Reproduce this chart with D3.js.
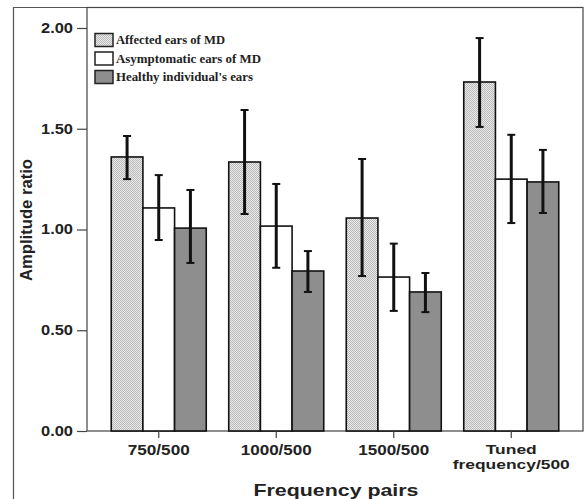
<!DOCTYPE html>
<html><head><meta charset="utf-8">
<script src="https://cdn.jsdelivr.net/npm/d3@7"></script>
<style>body{margin:0;background:#fff}svg{display:block}</style>
</head><body>
<script>
const categories = ["750/500", "1000/500", "1500/500", "Tuned frequency/500"];
const seriesNames = ["Affected ears of MD", "Asymptomatic ears of MD", "Healthy individual's ears"];
const affected     = [1.36, 1.335, 1.057, 1.732];
const affectedLo   = [1.25, 1.077, 0.769, 1.509];
const affectedHi   = [1.464, 1.593, 1.35, 1.95];
const asymptomatic   = [1.107, 1.017, 0.764, 1.25];
const asymptomaticLo = [0.948, 0.81, 0.596, 1.032];
const asymptomaticHi = [1.27, 1.226, 0.93, 1.47];
const healthy   = [1.007, 0.794, 0.69, 1.236];
const healthyLo = [0.834, 0.69, 0.59, 1.082];
const healthyHi = [1.196, 0.893, 0.784, 1.395];
const yTicks = [0, 0.5, 1.0, 1.5, 2.0];

(function(){
const W = 586, H = 499;
const svg = d3.select("body").append("svg").attr("width", W).attr("height", H);

const defs = svg.append("defs");
const pat = defs.append("pattern").attr("id","dots").attr("patternUnits","userSpaceOnUse")
  .attr("width",2).attr("height",2);
pat.append("rect").attr("width",2).attr("height",2).attr("fill","#ebebeb").attr("shape-rendering","crispEdges");
pat.append("rect").attr("width",1).attr("height",1).attr("fill","#b8b8b8").attr("shape-rendering","crispEdges");
pat.append("rect").attr("x",1).attr("y",1).attr("width",1).attr("height",1).attr("fill","#b8b8b8").attr("shape-rendering","crispEdges");

const fills = ["url(#dots)", "#ffffff", "#8e8e8e"];
const vals = [affected, asymptomatic, healthy];
const los = [affectedLo, asymptomaticLo, healthyLo];
const his = [affectedHi, asymptomaticHi, healthyHi];

const pL = 87, pR = 583, pT = 7, pB = 431;
const y = d3.scaleLinear().domain([0, 2]).range([pB, 28]);
const x = d3.scaleBand().domain(categories).range([pL, pR]).paddingInner(0.1915).paddingOuter(0.2063);
const xs = d3.scaleBand().domain(seriesNames).range([0, x.bandwidth()]);

// outer frame
svg.append("line").attr("x1",13.5).attr("x2",13.5).attr("y1",7).attr("y2",H).attr("stroke","#555").attr("stroke-width",1.2);
svg.append("line").attr("x1",13).attr("x2",pR).attr("y1",7.5).attr("y2",7.5).attr("stroke","#555").attr("stroke-width",1.2);
// plot box
svg.append("rect").attr("x",pL).attr("y",pT+0.5).attr("width",pR-pL).attr("height",pB-pT-0.5)
  .attr("fill","none").attr("stroke","#444").attr("stroke-width",1.2);

// bars
const data = [];
categories.forEach((c,i)=>seriesNames.forEach((s,j)=>data.push({c,s,j,v:vals[j][i],lo:los[j][i],hi:his[j][i]})));
const g = svg.append("g");
g.selectAll("rect.bar").data(data).join("rect").attr("class","bar")
  .attr("x", d=>x(d.c)+xs(d.s)).attr("width", xs.bandwidth())
  .attr("y", d=>y(d.v)).attr("height", d=>y(0)-y(d.v))
  .attr("fill", d=>fills[d.j]).attr("stroke","#111").attr("stroke-width",1.6);

// error bars
const eb = g.selectAll("g.eb").data(data).join("g").attr("class","eb")
  .attr("transform", d=>`translate(${x(d.c)+xs(d.s)+xs.bandwidth()/2},0)`);
eb.append("line").attr("y1",d=>y(d.lo)).attr("y2",d=>y(d.hi)).attr("stroke","#111").attr("stroke-width",3);
eb.append("line").attr("x1",-4).attr("x2",4).attr("y1",d=>y(d.hi)).attr("y2",d=>y(d.hi)).attr("stroke","#111").attr("stroke-width",2);
eb.append("line").attr("x1",-4).attr("x2",4).attr("y1",d=>y(d.lo)).attr("y2",d=>y(d.lo)).attr("stroke","#111").attr("stroke-width",2);

// y axis
const yAx = svg.append("g").attr("transform",`translate(${pL},0)`)
  .call(d3.axisLeft(y).tickValues(yTicks).tickFormat(d3.format(".2f")).tickSize(10).tickPadding(4));
yAx.select(".domain").remove();
yAx.selectAll("line").attr("stroke","#444").attr("stroke-width",1.2);
yAx.selectAll("text").attr("font-family","Liberation Sans, Arial, sans-serif").attr("font-weight","bold")
  .attr("font-size",14).attr("fill","#222").attr("textLength",32).attr("lengthAdjust","spacingAndGlyphs");

// x axis
const xAx = svg.append("g").attr("transform",`translate(0,${pB})`)
  .call(d3.axisBottom(x).tickSize(7).tickFormat(""));
xAx.select(".domain").remove();
xAx.selectAll("line").attr("stroke","#444").attr("stroke-width",1.2);
const labW = {"750/500":62,"1000/500":71,"1500/500":71};
categories.forEach(c=>{
  const cx = x(c)+x.bandwidth()/2;
  const t = svg.append("text").attr("text-anchor","middle")
    .attr("font-family","Liberation Sans, Arial, sans-serif").attr("font-weight","bold")
    .attr("font-size",14).attr("fill","#222");
  if (c.startsWith("Tuned")) {
    const parts = c.split(" ");
    svg.append("text").attr("x",cx).attr("y",454).attr("text-anchor","middle")
      .attr("font-family","Liberation Sans, Arial, sans-serif").attr("font-weight","bold").attr("font-size",13).attr("fill","#222")
      .attr("textLength",51).attr("lengthAdjust","spacingAndGlyphs").text(parts[0]);
    svg.append("text").attr("x",cx).attr("y",469).attr("text-anchor","middle")
      .attr("font-family","Liberation Sans, Arial, sans-serif").attr("font-weight","bold").attr("font-size",13).attr("fill","#222")
      .attr("textLength",117).attr("lengthAdjust","spacingAndGlyphs").text(parts[1]);
    t.remove();
  } else {
    t.attr("x",cx).attr("y",455).attr("textLength",labW[c]).attr("lengthAdjust","spacingAndGlyphs").text(c);
  }
});

// axis titles
svg.append("text").attr("x",336).attr("y",496).attr("text-anchor","middle")
  .attr("font-family","Liberation Sans, Arial, sans-serif").attr("font-weight","bold").attr("font-size",17)
  .attr("fill","#222").attr("textLength",165).attr("lengthAdjust","spacingAndGlyphs").text("Frequency pairs");
svg.append("text").attr("transform","translate(32,220) rotate(-90)").attr("text-anchor","middle")
  .attr("font-family","Liberation Sans, Arial, sans-serif").attr("font-weight","bold").attr("font-size",16)
  .attr("fill","#222").attr("textLength",122).attr("lengthAdjust","spacingAndGlyphs").text("Amplitude ratio");

// legend
const legW = [109, 145, 137];
const leg = svg.append("g");
seriesNames.forEach((s,j)=>{
  const cy = 40 + j*18.5;
  leg.append("rect").attr("x",95).attr("y",cy-6.5).attr("width",18).attr("height",13)
    .attr("fill",fills[j]).attr("stroke","#222").attr("stroke-width",1.5);
  leg.append("text").attr("x",116).attr("y",cy+4).attr("font-family","Liberation Serif, Times New Roman, serif")
    .attr("font-weight","bold").attr("font-size",12).attr("fill","#222")
    .attr("textLength",legW[j]).attr("lengthAdjust","spacingAndGlyphs").text(s);
});
})();
</script>
</body></html>
